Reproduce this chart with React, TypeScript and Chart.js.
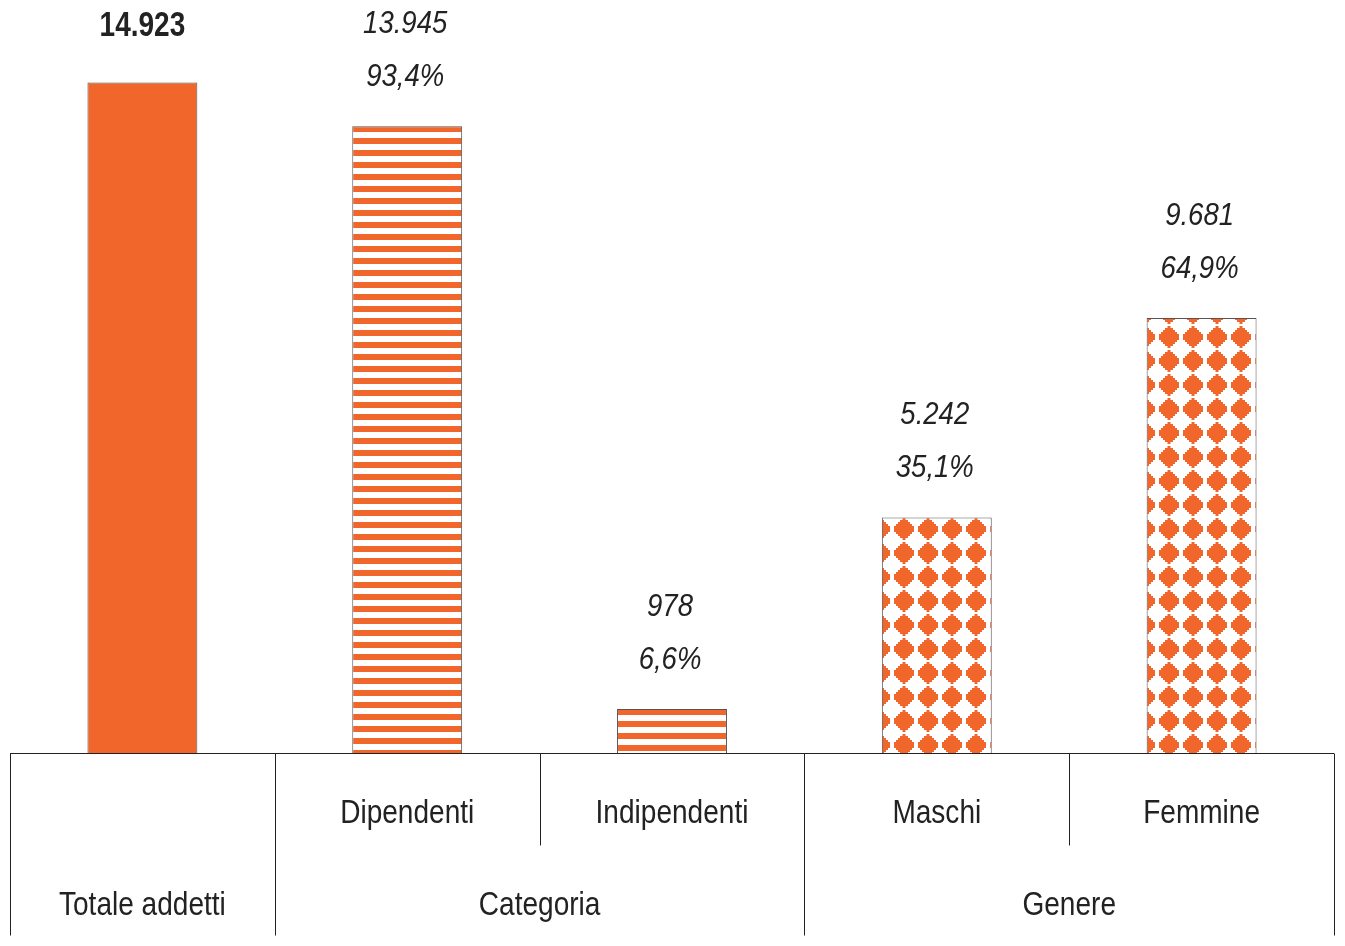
import React, { useEffect, useRef } from "react";
import { Chart, registerables } from "chart.js";

Chart.register(...registerables);

const categories = ["Totale addetti", "Dipendenti", "Indipendenti", "Maschi", "Femmine"];
const values = [14923, 13945, 978, 5242, 9681];
const valueLabels = ["14.923", "13.945", "978", "5.242", "9.681"];
const shareLabels = ["", "93,4%", "6,6%", "35,1%", "64,9%"];
const fills = ["solid", "stripes", "stripes", "diamonds", "diamonds"];
const groupLabels = ["Categoria", "Genere"];
const groupRanges = [
  [1, 2],
  [3, 4],
];

const ORANGE = "#F1672B";
const INK = "#222222";
const FONT = '"Liberation Sans", Arial, sans-serif';
const BAR_PCT = 0.415;

function narrowText(g: CanvasRenderingContext2D, text: string, x: number, y: number, font: string, sx: number) {
  g.save();
  g.font = font;
  g.textAlign = "center";
  g.textBaseline = "alphabetic";
  g.translate(x, y);
  g.scale(sx, 1);
  g.fillText(text, 0, 0);
  g.restore();
}

function makeStripeTile(): HTMLCanvasElement {
  const c = document.createElement("canvas");
  c.width = 8;
  c.height = 12;
  const g = c.getContext("2d")!;
  g.fillStyle = "#ffffff";
  g.fillRect(0, 0, 8, 12);
  g.fillStyle = ORANGE;
  g.fillRect(0, 0, 8, 6);
  return c;
}

function makeDiamondTile(): HTMLCanvasElement {
  const c = document.createElement("canvas");
  c.width = 24;
  c.height = 24;
  const g = c.getContext("2d")!;
  g.fillStyle = "#ffffff";
  g.fillRect(0, 0, 24, 24);
  g.fillStyle = ORANGE;
  const hw = (d: number) => (d <= 2 ? 10 : d <= 4 ? 8 : d <= 6 ? 6 : d <= 8 ? 4 : d <= 10 ? 1.5 : 0);
  for (let y = 0; y < 24; y++) {
    const d = Math.abs(y + 0.5 - 12);
    const w = hw(Math.floor(d));
    if (w > 0) g.fillRect(12 - w, y, w * 2, 1);
  }
  return c;
}

export default function App() {
  const ref = useRef<HTMLCanvasElement | null>(null);

  useEffect(() => {
    const canvas = ref.current!;
    const stripeTile = makeStripeTile();
    const diamondTile = makeDiamondTile();

    const bg = (ctx: any) => {
      const i = ctx.dataIndex;
      const chart = ctx.chart;
      const kind = fills[i];
      if (kind === "solid" || i === undefined) return ORANGE;
      const xs = chart.scales?.x;
      const ys = chart.scales?.y;
      if (!xs || !ys) return ORANGE;
      const cx = xs.getPixelForValue(i);
      const bw = (xs.width / categories.length) * BAR_PCT;
      const left = cx - bw / 2;
      const top = ys.getPixelForValue(values[i]);
      const base = ys.getPixelForValue(0);
      const c2d = chart.ctx as CanvasRenderingContext2D;
      if (kind === "stripes") {
        const p = c2d.createPattern(stripeTile, "repeat")!;
        p.setTransform(new DOMMatrix().translate(0, Math.round(top)));
        return p;
      }
      const p = c2d.createPattern(diamondTile, "repeat")!;
      p.setTransform(new DOMMatrix().translate(Math.round(left - 13.5), Math.round(base - 20)));
      return p;
    };

    const labelsPlugin = {
      id: "valueLabels",
      afterDatasetsDraw(chart: any) {
        const g = chart.ctx as CanvasRenderingContext2D;
        const meta = chart.getDatasetMeta(0);
        g.save();
        g.fillStyle = INK;
        meta.data.forEach((el: any, i: number) => {
          if (i === 0) {
            narrowText(g, valueLabels[i], el.x, el.y - 46, `bold 35px ${FONT}`, 0.8);
          } else {
            narrowText(g, valueLabels[i], el.x - 2, el.y - 93, `italic 32px ${FONT}`, 0.86);
            narrowText(g, shareLabels[i], el.x - 2, el.y - 40, `italic 32px ${FONT}`, 0.86);
          }
        });
        g.restore();
      },
    };

    const tablePlugin = {
      id: "categoryTable",
      afterDraw(chart: any) {
        const g = chart.ctx as CanvasRenderingContext2D;
        const xs = chart.scales.x;
        const area = chart.chartArea;
        const n = categories.length;
        const y0 = Math.round(area.bottom) + 0.5;
        const yMid = y0 + 92;
        const yEnd = y0 + 182;
        const bound = (k: number) => {
          if (k <= 0) return area.left;
          if (k >= n) return area.right;
          return (xs.getPixelForValue(k - 1) + xs.getPixelForValue(k)) / 2;
        };
        g.save();
        g.strokeStyle = INK;
        g.lineWidth = 1;
        g.beginPath();
        g.moveTo(area.left, y0);
        g.lineTo(area.right, y0);
        const groupStarts = new Set<number>();
        groupRanges.forEach((r) => groupStarts.add(r[0]));
        for (let k = 0; k <= n; k++) {
          const x = Math.round(bound(k)) + 0.5;
          const full = k === 0 || k === n || groupStarts.has(k);
          g.moveTo(x, y0);
          g.lineTo(x, full ? yEnd : yMid);
        }
        g.stroke();

        g.fillStyle = INK;
        const f = `33px ${FONT}`;
        for (let i = 1; i < n; i++) {
          narrowText(g, categories[i], xs.getPixelForValue(i), y0 + 69, f, 0.85);
        }
        narrowText(g, categories[0], xs.getPixelForValue(0), y0 + 161, f, 0.85);
        groupRanges.forEach((r, gi) => {
          const cx = (bound(r[0]) + bound(r[1] + 1)) / 2;
          narrowText(g, groupLabels[gi], cx, y0 + 161, f, 0.85);
        });
        g.restore();
      },
    };

    const chart = new Chart(canvas, {
      type: "bar",
      data: {
        labels: categories,
        datasets: [
          {
            data: values,
            backgroundColor: bg as any,
            borderColor: "#555555",
            borderWidth: 1,
            borderSkipped: "start",
            categoryPercentage: 1,
            barPercentage: BAR_PCT,
          },
        ],
      },
      options: {
        responsive: false,
        animation: false,
        layout: { padding: { left: 10, right: 11, top: 34, bottom: 193 } },
        plugins: {
          legend: { display: false },
          tooltip: { enabled: false },
        },
        scales: {
          x: { display: false },
          y: { display: false, min: 0, max: 16000 },
        },
      },
      plugins: [labelsPlugin, tablePlugin],
    });
    return () => chart.destroy();
  }, []);

  return (
    <div style={{ position: "absolute", left: 0, top: 0, width: 1345, height: 946, background: "#fff" }}>
      <canvas ref={ref} width={1345} height={946} />
    </div>
  );
}
